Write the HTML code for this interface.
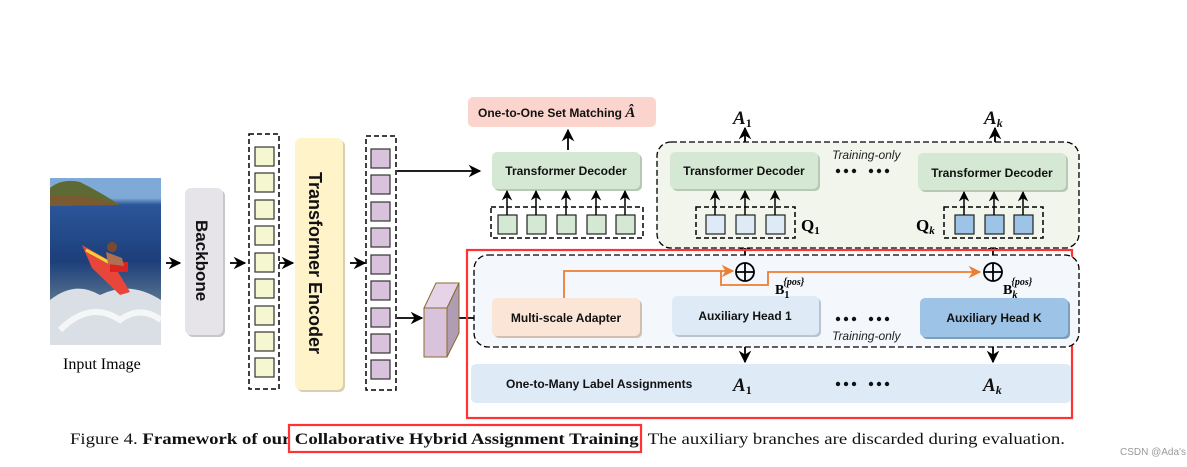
<!DOCTYPE html>
<html><head><meta charset="utf-8"><style>
body{margin:0;background:#fff;width:1187px;height:467px;overflow:hidden}
svg{display:block}
.l{font-family:"Liberation Sans",sans-serif;font-weight:bold;font-size:12px;fill:#111}
.it{font-family:"Liberation Sans",sans-serif;font-style:italic;font-size:12px;fill:#222}
.m{font-family:"Liberation Serif",serif;font-style:italic;font-weight:bold;font-size:19px;fill:#111}
.cap{font-family:"Liberation Serif",serif;font-size:16px;fill:#111}
</style></head><body>
<svg width="1187" height="467" viewBox="0 0 1187 467" xmlns="http://www.w3.org/2000/svg">
<defs>
<marker id="a" viewBox="0 0 10 10" refX="9" refY="5" markerWidth="7" markerHeight="7" orient="auto"><path d="M0,0L10,5L0,10L3,5z" fill="#000"/></marker>
<marker id="o" viewBox="0 0 10 10" refX="9" refY="5" markerWidth="7" markerHeight="7" orient="auto"><path d="M0,0L10,5L0,10L3,5z" fill="#ed7d31"/></marker>
<linearGradient id="sea" x1="0" y1="0" x2="0" y2="1"><stop offset="0" stop-color="#7fa9d6"/><stop offset=".12" stop-color="#7fa9d6"/><stop offset=".16" stop-color="#2a569a"/><stop offset=".5" stop-color="#1d3f7a"/><stop offset=".75" stop-color="#5a7590"/><stop offset="1" stop-color="#d5dbe0"/></linearGradient>
<g id="dots"><circle cx="0" cy="0" r="2.2"/><circle cx="8" cy="0" r="2.2"/><circle cx="16" cy="0" r="2.2"/><circle cx="33" cy="0" r="2.2"/><circle cx="41" cy="0" r="2.2"/><circle cx="49" cy="0" r="2.2"/></g>
</defs>
<!-- input image -->
<rect x="50" y="178" width="111" height="167" fill="url(#sea)"/>
<path d="M50,188 Q62,178 80,182 Q100,192 120,205 L50,206z" fill="#5e6a34"/>
<path d="M50,196 Q80,192 118,205 L50,206z" fill="#7a5a30"/>
<path d="M50,345 L50,300 Q75,280 100,295 Q130,280 161,300 L161,345z" fill="#d9dfe4"/>
<path d="M60,330 Q90,300 120,320 Q140,305 161,320" stroke="#fff" stroke-width="6" fill="none" opacity=".7"/>
<path d="M82,245 L112,262 L130,292 L120,295 L92,268z" fill="#e8463a"/>
<path d="M86,250 L110,263" stroke="#f3d23a" stroke-width="3"/>
<circle cx="112" cy="247" r="5" fill="#7a4a30"/>
<rect x="110" y="262" width="18" height="10" fill="#d22"/>
<path d="M106,252 L122,258 L124,266 L108,264z" fill="#b07050"/>
<text x="63" y="369" style="font-family:'Liberation Serif',serif;font-size:16px">Input Image</text>
<!-- backbone -->
<rect x="187" y="190" width="38" height="147" rx="6" fill="#c8c6ca"/>
<rect x="185" y="188" width="38" height="147" rx="6" fill="#e6e4e8"/>
<text transform="translate(196,220) rotate(90)" class="l" style="font-size:17px">Backbone</text>
<g stroke="#000" stroke-width="1.8" fill="none" marker-end="url(#a)">
<line x1="166" y1="263" x2="180" y2="263"/><line x1="230" y1="263" x2="245" y2="263"/>
<line x1="279" y1="263" x2="293" y2="263"/><line x1="350" y1="263" x2="365" y2="263"/>
<line x1="397" y1="171" x2="480" y2="171"/><line x1="397" y1="318" x2="422" y2="318"/>
<line x1="459" y1="318" x2="489" y2="318"/>
<line x1="643" y1="312" x2="668" y2="312"/>
<line x1="568" y1="150" x2="568" y2="130"/>
<line x1="745" y1="152" x2="745" y2="128"/><line x1="995" y1="153" x2="995" y2="128"/>
<line x1="745" y1="335" x2="745" y2="362"/><line x1="993" y1="337" x2="993" y2="362"/>
<line x1="745" y1="296" x2="745" y2="240"/><line x1="993" y1="298" x2="993" y2="240"/>
</g>
<!-- column 1 -->
<rect x="249" y="134" width="30" height="255" fill="none" stroke="#000" stroke-width="1.5" stroke-dasharray="5,3"/>
<g fill="#f5f7d0" stroke="#333" stroke-width="1.2">
<rect x="255" y="147" width="19" height="19"/><rect x="255" y="173" width="19" height="19"/><rect x="255" y="200" width="19" height="19"/><rect x="255" y="226" width="19" height="19"/><rect x="255" y="253" width="19" height="19"/><rect x="255" y="279" width="19" height="19"/><rect x="255" y="306" width="19" height="19"/><rect x="255" y="332" width="19" height="19"/><rect x="255" y="358" width="19" height="19"/>
</g>
<!-- encoder -->
<rect x="297" y="140" width="48" height="252" rx="6" fill="#d8d0b0"/>
<rect x="295" y="138" width="48" height="252" rx="6" fill="#fff3c9"/>
<text transform="translate(309,172) rotate(90)" class="l" style="font-size:18px">Transformer Encoder</text>
<!-- column 2 -->
<rect x="366" y="136" width="30" height="254" fill="none" stroke="#000" stroke-width="1.5" stroke-dasharray="5,3"/>
<g fill="#d9c3dc" stroke="#333" stroke-width="1.2">
<rect x="371" y="149" width="19" height="19"/><rect x="371" y="175" width="19" height="19"/><rect x="371" y="202" width="19" height="19"/><rect x="371" y="228" width="19" height="19"/><rect x="371" y="255" width="19" height="19"/><rect x="371" y="281" width="19" height="19"/><rect x="371" y="308" width="19" height="19"/><rect x="371" y="334" width="19" height="19"/><rect x="371" y="360" width="19" height="19"/>
</g>
<!-- prism -->
<polygon points="424,308 436,283 459,283 447,308" fill="#e6d3e8" stroke="#8b6b2e"/>
<polygon points="447,308 459,283 459,333 447,357" fill="#b09cb3" stroke="#8b6b2e"/>
<rect x="424" y="308" width="23" height="49" fill="#d9c3dc" stroke="#8b6b2e"/>
<!-- one-to-one -->
<rect x="468" y="97" width="188" height="30" rx="5" fill="#fbd5cd"/>
<text x="478" y="117" class="l">One-to-One Set Matching <tspan font-family="Liberation Serif" font-style="italic" font-size="15">Â</tspan></text>
<!-- TD1 -->
<rect x="494" y="154" width="148" height="37" rx="5" fill="#b8c8b5"/>
<rect x="492" y="152" width="148" height="37" rx="5" fill="#d5e8d4"/>
<text x="566" y="175" class="l" text-anchor="middle">Transformer Decoder</text>
<rect x="491" y="207" width="152" height="31" fill="none" stroke="#000" stroke-width="1.5" stroke-dasharray="5,3"/>
<g fill="#d5e8d4" stroke="#222" stroke-width="1.2">
<rect x="498" y="215" width="19" height="19"/><rect x="527" y="215" width="19" height="19"/><rect x="557" y="215" width="19" height="19"/><rect x="587" y="215" width="19" height="19"/><rect x="616" y="215" width="19" height="19"/>
</g>
<g stroke="#000" stroke-width="1.5" marker-end="url(#a)">
<line x1="507" y1="215" x2="507" y2="191"/><line x1="536" y1="215" x2="536" y2="191"/><line x1="566" y1="215" x2="566" y2="191"/><line x1="596" y1="215" x2="596" y2="191"/><line x1="625" y1="215" x2="625" y2="191"/>
</g>
<!-- green region -->
<rect x="657" y="142" width="422" height="106" rx="14" fill="#f1f5ec" stroke="#000" stroke-width="1.3" stroke-dasharray="6,3"/>
<rect x="672" y="154" width="148" height="37" rx="5" fill="#b8c8b5"/>
<rect x="670" y="152" width="148" height="37" rx="5" fill="#d5e8d4"/>
<text x="744" y="175" class="l" text-anchor="middle">Transformer Decoder</text>
<rect x="920" y="155" width="148" height="37" rx="5" fill="#b8c8b5"/>
<rect x="918" y="153" width="148" height="37" rx="5" fill="#d5e8d4"/>
<text x="992" y="177" class="l" text-anchor="middle">Transformer Decoder</text>
<text x="832" y="159" class="it">Training-only</text>
<use href="#dots" x="838" y="171" fill="#111"/>
<rect x="696" y="207" width="99" height="31" fill="none" stroke="#000" stroke-width="1.5" stroke-dasharray="5,3"/>
<g fill="#deebf7" stroke="#222" stroke-width="1.2"><rect x="706" y="215" width="19" height="19"/><rect x="736" y="215" width="19" height="19"/><rect x="766" y="215" width="19" height="19"/></g>
<rect x="944" y="207" width="99" height="31" fill="none" stroke="#000" stroke-width="1.5" stroke-dasharray="5,3"/>
<g fill="#9dc3e6" stroke="#222" stroke-width="1.2"><rect x="955" y="215" width="19" height="19"/><rect x="985" y="215" width="19" height="19"/><rect x="1014" y="215" width="19" height="19"/></g>
<g stroke="#000" stroke-width="1.5" marker-end="url(#a)">
<line x1="715" y1="215" x2="715" y2="191"/><line x1="745" y1="215" x2="745" y2="191"/><line x1="775" y1="215" x2="775" y2="191"/>
<line x1="964" y1="215" x2="964" y2="192"/><line x1="994" y1="215" x2="994" y2="192"/><line x1="1023" y1="215" x2="1023" y2="192"/>
</g>
<text x="801" y="231" style="font-family:'Liberation Serif',serif;font-weight:bold;font-size:17px">Q<tspan font-size="11" dy="3">1</tspan></text>
<text x="916" y="231" style="font-family:'Liberation Serif',serif;font-weight:bold;font-size:17px">Q<tspan font-size="11" dy="3" font-style="italic">k</tspan></text>
<text x="733" y="124" class="m">A<tspan font-size="12" dy="3" font-style="normal">1</tspan></text>
<text x="984" y="124" class="m">A<tspan font-size="12" dy="3">k</tspan></text>
<!-- red box -->
<rect x="467" y="250" width="605" height="168" fill="none" stroke="#f33" stroke-width="2.2"/>
<rect x="474" y="255" width="605" height="92" rx="14" fill="#f4f7fc" stroke="#000" stroke-width="1.3" stroke-dasharray="6,3"/>
<rect x="494" y="300" width="148" height="38" rx="5" fill="#d0c0b0"/>
<rect x="492" y="298" width="148" height="38" rx="5" fill="#fbe5d6"/>
<text x="566" y="322" class="l" text-anchor="middle">Multi-scale Adapter</text>
<rect x="674" y="298" width="147" height="39" rx="5" fill="#b8c4d0"/>
<rect x="672" y="296" width="147" height="39" rx="5" fill="#deebf7"/>
<text x="745" y="320" class="l" text-anchor="middle">Auxiliary Head 1</text>
<rect x="922" y="300" width="148" height="39" rx="5" fill="#7d9dbd"/>
<rect x="920" y="298" width="148" height="39" rx="5" fill="#9dc3e6"/>
<text x="994" y="322" class="l" text-anchor="middle">Auxiliary Head K</text>
<use href="#dots" x="838" y="319" fill="#111"/>
<text x="832" y="340" class="it">Training-only</text>
<!-- orange -->
<path d="M564,298 V271 H733" fill="none" stroke="#ed7d31" stroke-width="1.8" marker-end="url(#o)"/>
<path d="M721,271 V285 H768 V272 H980" fill="none" stroke="#ed7d31" stroke-width="1.8" marker-end="url(#o)"/>
<g fill="none" stroke="#000" stroke-width="1.8">
<circle cx="745" cy="272" r="9" fill="#f4f7fc"/><line x1="736" y1="272" x2="754" y2="272"/><line x1="745" y1="263" x2="745" y2="281"/>
<circle cx="993" cy="272" r="9" fill="#f4f7fc"/><line x1="984" y1="272" x2="1002" y2="272"/><line x1="993" y1="263" x2="993" y2="281"/>
</g>
<text x="775" y="294" style="font-family:'Liberation Serif',serif;font-weight:bold;font-size:14px">B<tspan font-size="10" dy="4">1</tspan><tspan font-size="10" font-style="italic" dx="-6" dy="-13">{pos}</tspan></text>
<text x="1003" y="294" style="font-family:'Liberation Serif',serif;font-weight:bold;font-size:14px">B<tspan font-size="10" dy="4" font-style="italic">k</tspan><tspan font-size="10" font-style="italic" dx="-6" dy="-13">{pos}</tspan></text>
<!-- one-to-many -->
<rect x="471" y="364" width="600" height="39" rx="5" fill="#deebf7"/>
<text x="506" y="388" class="l">One-to-Many Label Assignments</text>
<text x="733" y="391" class="m">A<tspan font-size="12" dy="3" font-style="normal">1</tspan></text>
<text x="983" y="391" class="m">A<tspan font-size="12" dy="3">k</tspan></text>
<use href="#dots" x="838" y="384" fill="#111"/>
<!-- caption -->
<text x="70" y="444" class="cap" textLength="995" lengthAdjust="spacingAndGlyphs">Figure 4. <tspan font-weight="bold">Framework of our Collaborative Hybrid Assignment Training</tspan>. The auxiliary branches are discarded during evaluation.</text>
<rect x="289" y="425" width="352" height="27" fill="none" stroke="#f33" stroke-width="2.2"/>
<text x="1120" y="455" style="font-family:'Liberation Sans',sans-serif;font-size:10px;fill:#999">CSDN @Ada's</text>
</svg>
</body></html>
